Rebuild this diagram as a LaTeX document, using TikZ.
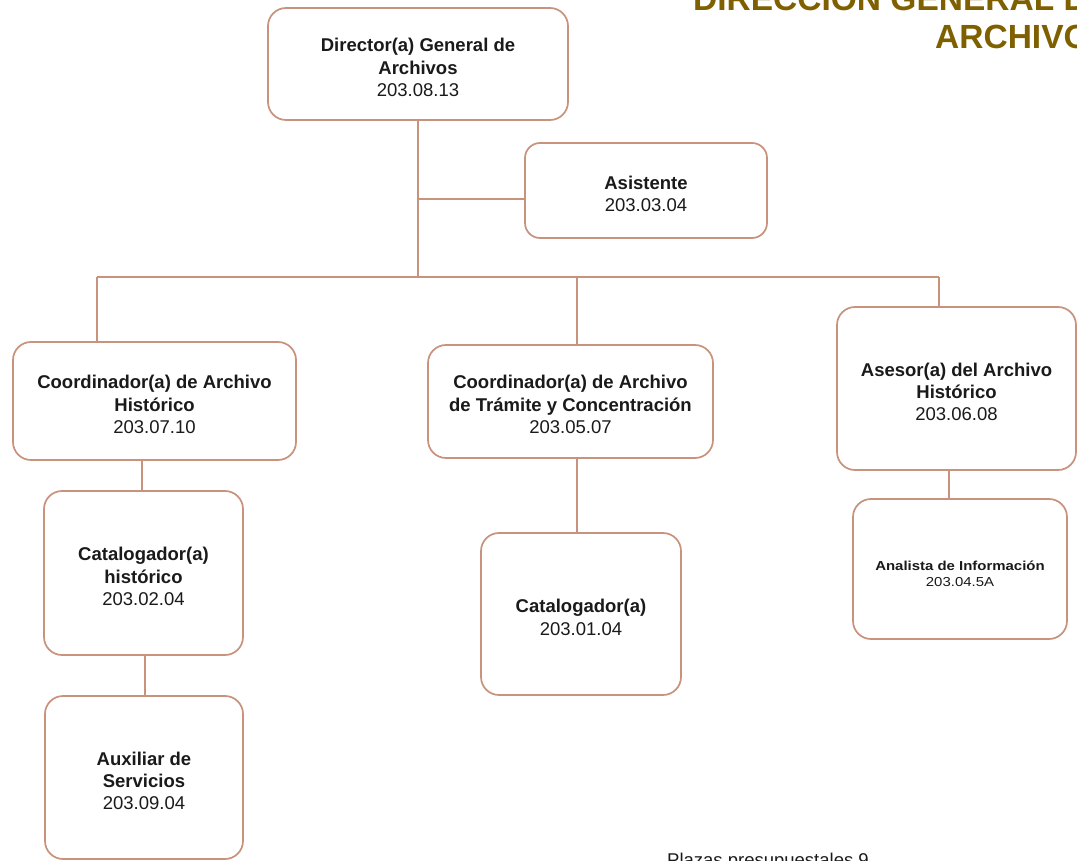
\documentclass[tikz,border=0pt]{standalone}
\usepackage{fontspec}
\setmainfont{Liberation Sans}
\usepackage{graphicx}
\definecolor{edge}{HTML}{C8927C}
\definecolor{ink}{HTML}{1A1A1A}
\definecolor{titlecol}{HTML}{7F6000}
\newcommand\orgfont{\fontsize{18.5}{22.3}\selectfont}
\newcommand\smallorgfont{\fontsize{13}{15.5}\selectfont}
\begin{document}
\begin{tikzpicture}[x=1pt,y=-1pt,
  box/.style={draw=edge, line width=1.7pt, rounded corners=18pt, fill=white, inner sep=0pt},
  lbl/.style={align=center, text=ink, font=\orgfont, inner sep=0pt, yshift=-3.5pt},
  smalllbl/.style={lbl, font=\smallorgfont, yshift=-1.5pt},
  link/.style={draw=edge, line width=1.7pt},
  titletext/.style={text=titlecol, font=\fontsize{33.5}{38}\selectfont\bfseries, inner sep=0pt}]
\useasboundingbox (0,0) rectangle (1077,861);

% heading in the upper right corner
\node[titletext, anchor=base west] (t1) at (693,11) {DIRECCIÓN GENERAL DE};
\node[titletext, anchor=base west] (t2) at (935,49) {ARCHIVOS};

% positions
\node[box, minimum width=300pt, minimum height=112pt,
  label={[lbl]center:\textbf{Director(a) General de}\\\textbf{Archivos}\\203.08.13}] (dir) at (418,64) {};
\node[box, minimum width=242pt, minimum height=95pt, rounded corners=15pt,
  label={[lbl]center:\textbf{Asistente}\\203.03.04}] (asis) at (646,190.5) {};
\node[box, minimum width=283pt, minimum height=118pt,
  label={[lbl]center:\textbf{Coordinador(a) de Archivo}\\\textbf{Histórico}\\203.07.10}] (cH) at (154.5,401) {};
\node[box, minimum width=285pt, minimum height=113pt,
  label={[lbl, yshift=0.5pt]center:\textbf{Coordinador(a) de Archivo}\\\textbf{de Trámite y Concentración}\\203.05.07}] (cT) at (570.5,401.5) {};
\node[box, minimum width=239pt, minimum height=163pt,
  label={[lbl]center:\textbf{Asesor(a) del Archivo}\\\textbf{Histórico}\\203.06.08}] (ase) at (956.5,388.5) {};
\node[box, minimum width=199pt, minimum height=164pt,
  label={[lbl]center:\textbf{Catalogador(a)}\\\textbf{histórico}\\203.02.04}] (catH) at (143.5,573) {};
\node[box, minimum width=200pt, minimum height=162pt,
  label={[lbl]center:\textbf{Catalogador(a)}\\203.01.04}] (cat) at (581,614) {};
\node[box, minimum width=214pt, minimum height=140pt,
  label={[smalllbl]center:\scalebox{1.15}[1]{\textbf{Analista de Información}}\\\scalebox{1.15}[1]{203.04.5A}}] (ana) at (960,569) {};
\node[box, minimum width=198pt, minimum height=163pt,
  label={[lbl]center:\textbf{Auxiliar de}\\\textbf{Servicios}\\203.09.04}] (aux) at (144,777.5) {};

% junction points of the connectors
\coordinate (jA) at (418,199);
\coordinate (jM) at (418,277);
\coordinate (bL) at (97,277);
\coordinate (bC) at (577,277);
\coordinate (bR) at (939,277);
\coordinate (dH) at (142,460);
\coordinate (dA) at (145,655);
\coordinate (dT) at (577,458);
\coordinate (dS) at (949,470);

% connectors
\draw[link] (dir.south) -- (jM);
\draw[link] (jA) -- (jA -| asis.west);
\draw[link] (bL) -- (bR);
\draw[link] (bL) -- (bL |- cH.north);
\draw[link] (bC) -- (bC |- cT.north);
\draw[link] (bR) -- (bR |- ase.north);
\draw[link] (dH) -- (dH |- catH.north);
\draw[link] (dA) -- (dA |- aux.north);
\draw[link] (dT) -- (dT |- cat.north);
\draw[link] (dS) -- (dS |- ana.north);

% footnote at the bottom edge
\node[anchor=base west, inner sep=0pt, text=ink, font=\orgfont] (plz) at (667,866) {Plazas presupuestales 9};
\end{tikzpicture}
\end{document}
